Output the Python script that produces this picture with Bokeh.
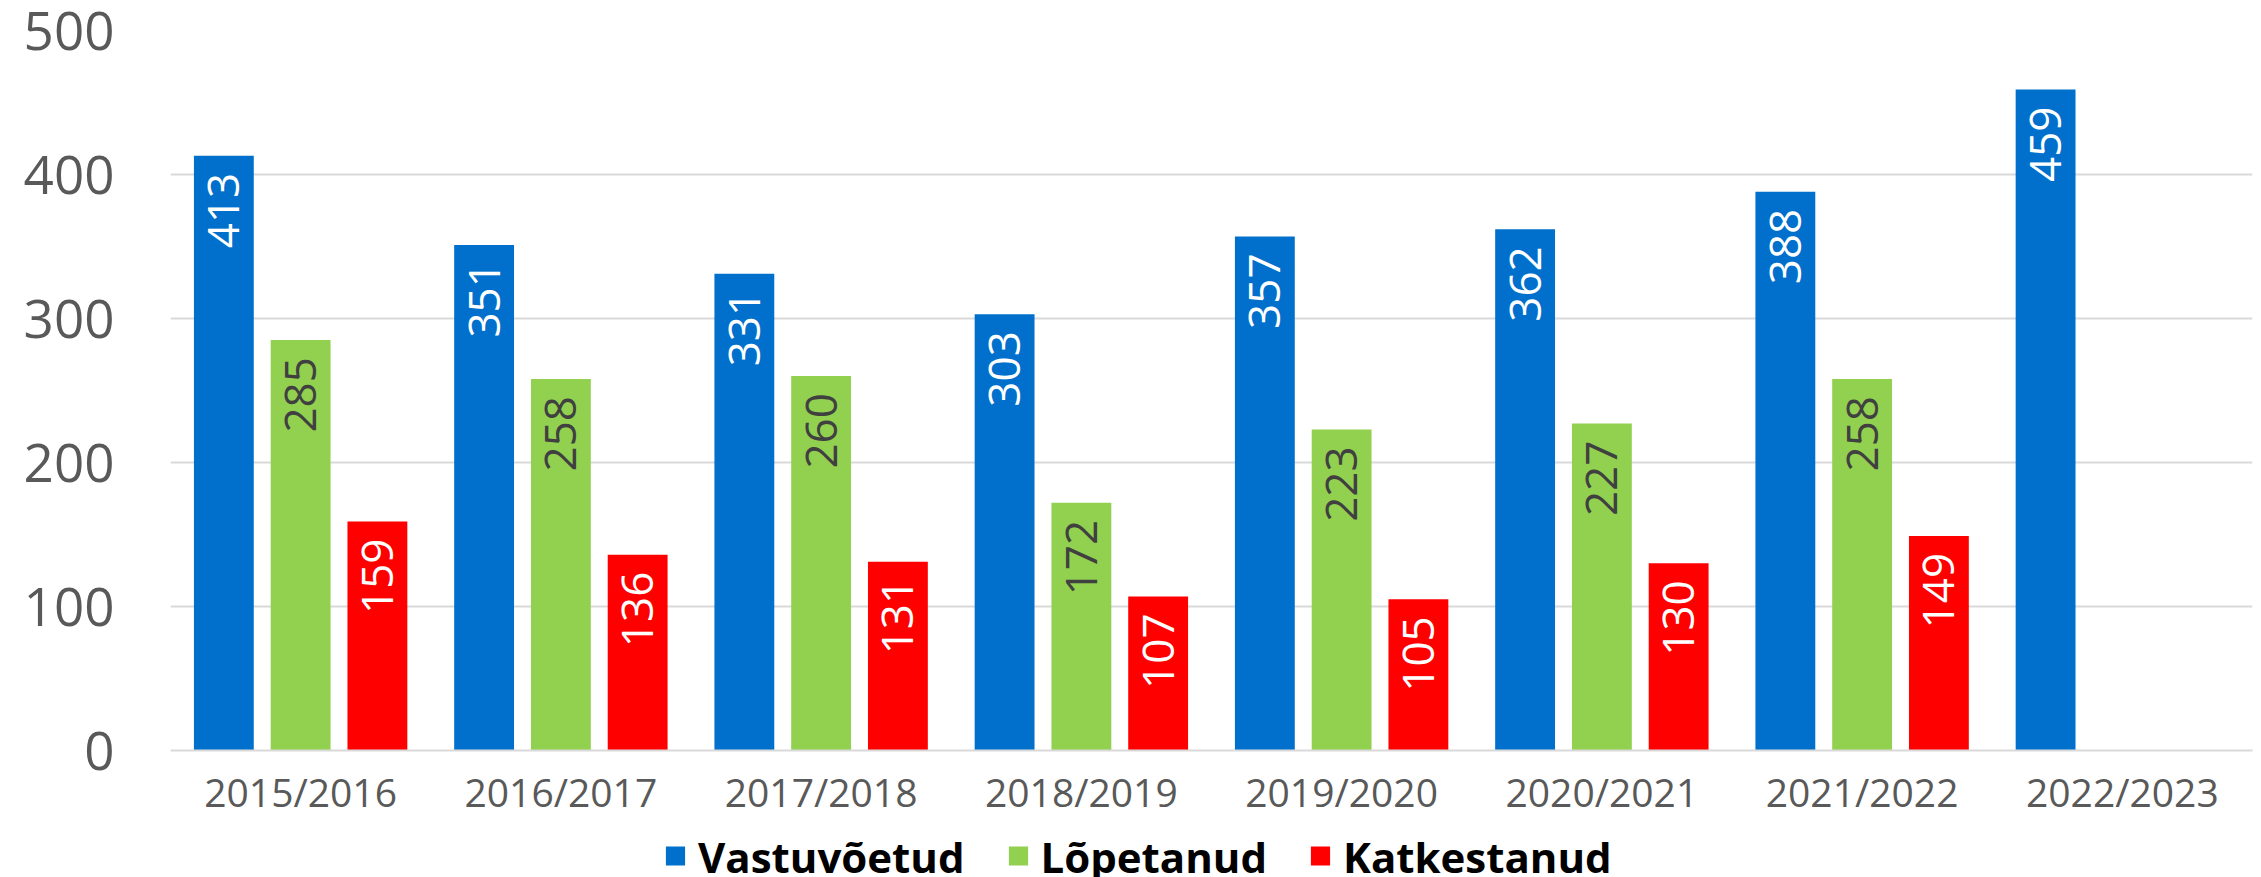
import math
from bokeh.plotting import figure
from bokeh.layouts import column
from bokeh.models import ColumnDataSource, FactorRange, Legend, LegendItem, Range1d
from bokeh.transform import dodge
from bokeh.core.properties import value
from bokeh.embed import file_html
from bokeh.resources import INLINE

categories = ["2015/2016", "2016/2017", "2017/2018", "2018/2019",
              "2019/2020", "2020/2021", "2021/2022", "2022/2023"]
vastuvoetud = [413, 351, 331, 303, 357, 362, 388, 459]
lopetanud = [285, 258, 260, 172, 223, 227, 258, None]
katkestanud = [159, 136, 131, 107, 105, 130, 149, None]
y_ticks = [0, 100, 200, 300, 400, 500]

series = [
    ("Vastuvõetud", vastuvoetud, "#0070CC", "white", -0.295),
    ("Lõpetanud", lopetanud, "#92D050", "#404040", 0.0),
    ("Katkestanud", katkestanud, "#FF0000", "white", 0.295),
]

FONT = "Open Sans"

p = figure(x_range=FactorRange(*categories), y_range=Range1d(0, 500),
           frame_width=2082, frame_height=720,
           min_border_left=170, min_border_top=30, min_border_right=9, min_border_bottom=84,
           output_backend="svg", toolbar_location=None)
p.outline_line_color = None
p.background_fill_color = "white"

# separate strip for the legend, directly under the chart
pl = figure(width=2261, height=43, min_border=0, output_backend="svg",
            toolbar_location=None)
pl.axis.visible = False
pl.grid.visible = False
pl.outline_line_color = None

items = []
for name, vals, color, tcolor, off in series:
    xs = [c for c, v in zip(categories, vals) if v is not None]
    ys = [v for v in vals if v is not None]
    src = ColumnDataSource(dict(x=xs, y=ys, t=[str(v) for v in ys]))
    p.vbar(x=dodge("x", off, range=p.x_range), top="y", width=0.23, source=src,
           fill_color=color, line_color=None)
    p.text(x=dodge("x", off, range=p.x_range), y="y", text="t", source=src,
           angle=math.pi / 2, text_align="right", text_baseline="middle",
           y_offset=17, text_color=tcolor, text_font=value(FONT), text_font_size="44px")
    # zero-height proxy bar: only supplies the legend swatch
    lr = pl.vbar(x=[0], top=[0], bottom=[0], width=0.001, fill_color=color, line_color=None)
    items.append(LegendItem(label=name, renderers=[lr]))

p.xgrid.grid_line_color = None
p.ygrid.grid_line_color = "#D9D9D9"
p.ygrid.grid_line_width = 2
p.yaxis.ticker = y_ticks
p.yaxis.axis_line_color = None
p.yaxis.major_tick_line_color = None
p.yaxis.minor_tick_line_color = None
p.yaxis.major_label_text_font = FONT
p.yaxis.major_label_text_font_size = "53px"
p.yaxis.major_label_text_color = "#595959"
p.yaxis.major_label_standoff = 50

p.xaxis.axis_line_color = "#D9D9D9"
p.xaxis.axis_line_width = 2
p.xaxis.major_tick_line_color = None
p.xaxis.minor_tick_line_color = None
p.xaxis.major_label_text_font = FONT
p.xaxis.major_label_text_font_size = "39px"
p.xaxis.major_label_text_color = "#595959"
p.xaxis.major_label_standoff = 8

legend = Legend(items=items, orientation="horizontal", location="center_left",
                glyph_width=24, glyph_height=24, label_standoff=11, spacing=41,
                label_text_font=FONT, label_text_font_size="42px",
                label_text_font_style="bold", label_text_color="black",
                border_line_color=None, background_fill_alpha=0,
                padding=0, margin=493)
pl.add_layout(legend, "center")

layout = column(p, pl, spacing=0)
open("out.html", "w").write(file_html(layout, INLINE))
